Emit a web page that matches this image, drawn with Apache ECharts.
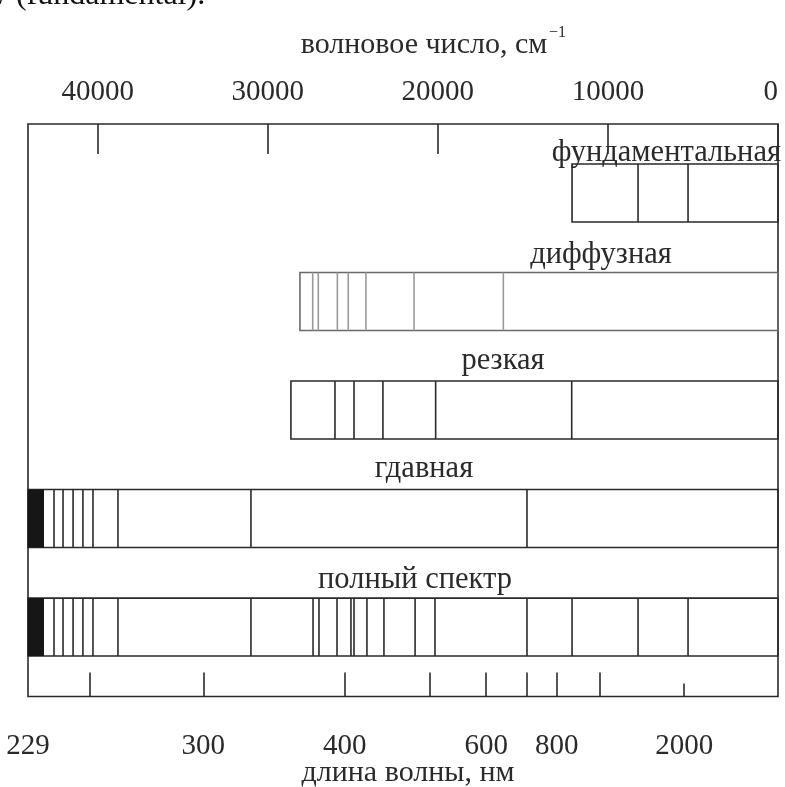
<!DOCTYPE html>
<html><head><meta charset="utf-8">
<script src="https://cdn.jsdelivr.net/npm/echarts@6/dist/echarts.min.js"></script>
<style>html,body{margin:0;padding:0;background:#fff}#c{width:785px;height:787px}</style>
</head><body><div id="c"></div>
<script>
// ---- data (wavenumbers in cm^-1) ----
const rowNames = ['фундаментальная', 'диффузная', 'резкая', 'гдавная', 'полный спектр'];
const seriesLimits = [12110, 28110, 28640, 44100, 44100];
const fundamentalLines = [8230, 5290];
const diffuseLines = [27360, 27030, 25910, 25270, 24230, 21400, 16150];
const sharpLines = [26050, 24930, 23230, 20130, 12130];
const principalLines = [42570, 42040, 41450, 40870, 40280, 38810, 30990, 14760];
const fullLines = [42570, 42040, 41450, 40870, 40280, 38810, 30990, 27340, 26990, 25930,
                   25110, 24930, 24170, 23170, 21340, 20170, 14760, 12110, 8230, 5290];
const limitBand = [43160, 44100];          // dark convergence region of the principal series
const wavenumberTicks = [0, 10000, 20000, 30000, 40000];
const wavelengthTicks = [250, 300, 400, 500, 600, 700, 800, 1000];   // nm
const wavelengthShortTicks = [2000];                                 // nm
const wavelengthLabels = [229, 300, 400, 600, 800, 2000];            // nm

// ---- build ----
const lineSets = [fundamentalLines, diffuseLines, sharpLines, principalLines, fullLines];
const boxData = rowNames.map((n, i) => [i, seriesLimits[i], 0]);
const lineData = [];
lineSets.forEach((arr, i) => arr.forEach(v => lineData.push([i, v])));
const bandData = [[3, limitBand[0], limitBand[1]], [4, limitBand[0], limitBand[1]]];

const FONT = "'Liberation Serif', 'DejaVu Serif', serif";
const INK = '#2a2a2a';
const H = 0.267;
const WL_MAX = 1e7 / wavelengthLabels[0];

function boxItem(params, api) {
  const r = api.value(0);
  const p1 = api.coord([api.value(1), r - H]);
  const p2 = api.coord([api.value(2), r + H]);
  return { type: 'rect', shape: { x: p1[0], y: p1[1], width: p2[0] - p1[0], height: p2[1] - p1[1] },
    style: { fill: 'none', stroke: r === 1 ? '#6a6a6a' : INK, lineWidth: 1.6 } };
}
function lineItem(params, api) {
  const r = api.value(0);
  const p1 = api.coord([api.value(1), r - H]);
  const p2 = api.coord([api.value(1), r + H]);
  return { type: 'line', shape: { x1: p1[0], y1: p1[1], x2: p2[0], y2: p2[1] },
    style: { stroke: r === 1 ? '#9a9a9a' : INK, lineWidth: 1.6 } };
}
function bandItem(params, api) {
  const r = api.value(0);
  const p1 = api.coord([api.value(2), r - H]);
  const p2 = api.coord([api.value(1), r + H]);
  return { type: 'rect', shape: { x: p1[0], y: p1[1], width: p2[0] - p1[0], height: p2[1] - p1[1] },
    style: { fill: '#161616' } };
}

const labelStyle = { fontFamily: FONT, fontSize: 29, color: INK };
const chart = echarts.init(document.getElementById('c'), null, { renderer: 'canvas' });
chart.setOption({
  backgroundColor: '#fff',
  animation: false,
  grid: { left: 28, right: 7, top: 124, bottom: 90.5, show: true, borderColor: INK, borderWidth: 1.6 },
  xAxis: [
    { type: 'value', position: 'top', inverse: true, min: 0, max: 44100,
      axisLine: { show: false, onZero: false }, splitLine: { show: false },
      axisTick: { inside: true, length: 30, lineStyle: { color: INK, width: 1.6 }, customValues: wavenumberTicks },
      axisLabel: Object.assign({ customValues: wavenumberTicks, margin: 17, alignMinLabel: 'right',
        formatter: v => String(v) }, labelStyle) },
    { type: 'value', position: 'bottom', inverse: true, min: -532, max: WL_MAX,
      axisLine: { show: false, onZero: false }, splitLine: { show: false },
      axisTick: { inside: true, length: 24, lineStyle: { color: INK, width: 1.6 }, customValues: wavelengthTicks.map(l => 1e7 / l) },
      axisLabel: Object.assign({ customValues: wavelengthLabels.map(l => 1e7 / l), margin: 35,
        showMaxLabel: true, showMinLabel: true, hideOverlap: false,
        formatter: v => String(Math.round(1e7 / v)) }, labelStyle) },
    { type: 'value', position: 'bottom', inverse: true, min: -532, max: WL_MAX,
      axisLine: { show: false, onZero: false }, splitLine: { show: false },
      axisTick: { inside: true, length: 13, lineStyle: { color: INK, width: 1.6 }, customValues: wavelengthShortTicks.map(l => 1e7 / l) },
      axisLabel: { show: false } }
  ],
  yAxis: { type: 'value', inverse: true, min: -0.636, max: 4.64, show: false },
  series: [
    { type: 'custom', renderItem: boxItem, data: boxData, xAxisIndex: 0, clip: false, silent: true },
    { type: 'custom', renderItem: bandItem, data: bandData, xAxisIndex: 0, clip: false, silent: true },
    { type: 'custom', renderItem: lineItem, data: lineData, xAxisIndex: 0, clip: false, silent: true }
  ],
  graphic: [
    { type: 'text', x: -1, y: -4, style: { text: '/ (fundamental).', font: "32px " + FONT, fill: '#111', align: 'left', verticalAlign: 'middle' } },
    { type: 'text', x: 424, y: 45, style: { text: 'волновое число, см', font: "30px " + FONT, fill: INK, align: 'center', verticalAlign: 'middle' } },
    { type: 'text', x: 549, y: 33, style: { text: '−1', font: "16px " + FONT, fill: INK, align: 'left', verticalAlign: 'middle' } },
    { type: 'text', x: 408, y: 773, style: { text: 'длина волны, нм', font: "30px " + FONT, fill: INK, align: 'center', verticalAlign: 'middle' } },
    { type: 'text', x: 781, y: 153, style: { text: rowNames[0], font: "30.5px " + FONT, fill: INK, align: 'right', verticalAlign: 'middle' } },
    { type: 'text', x: 601, y: 254.5, style: { text: rowNames[1], font: "30.5px " + FONT, fill: INK, align: 'center', verticalAlign: 'middle' } },
    { type: 'text', x: 503, y: 361, style: { text: rowNames[2], font: "30.5px " + FONT, fill: INK, align: 'center', verticalAlign: 'middle' } },
    { type: 'text', x: 424, y: 469, style: { text: rowNames[3], font: "30.5px " + FONT, fill: INK, align: 'center', verticalAlign: 'middle' } },
    { type: 'text', x: 415, y: 580, style: { text: rowNames[4], font: "30.5px " + FONT, fill: INK, align: 'center', verticalAlign: 'middle' } }
  ]
});
</script></body></html>
